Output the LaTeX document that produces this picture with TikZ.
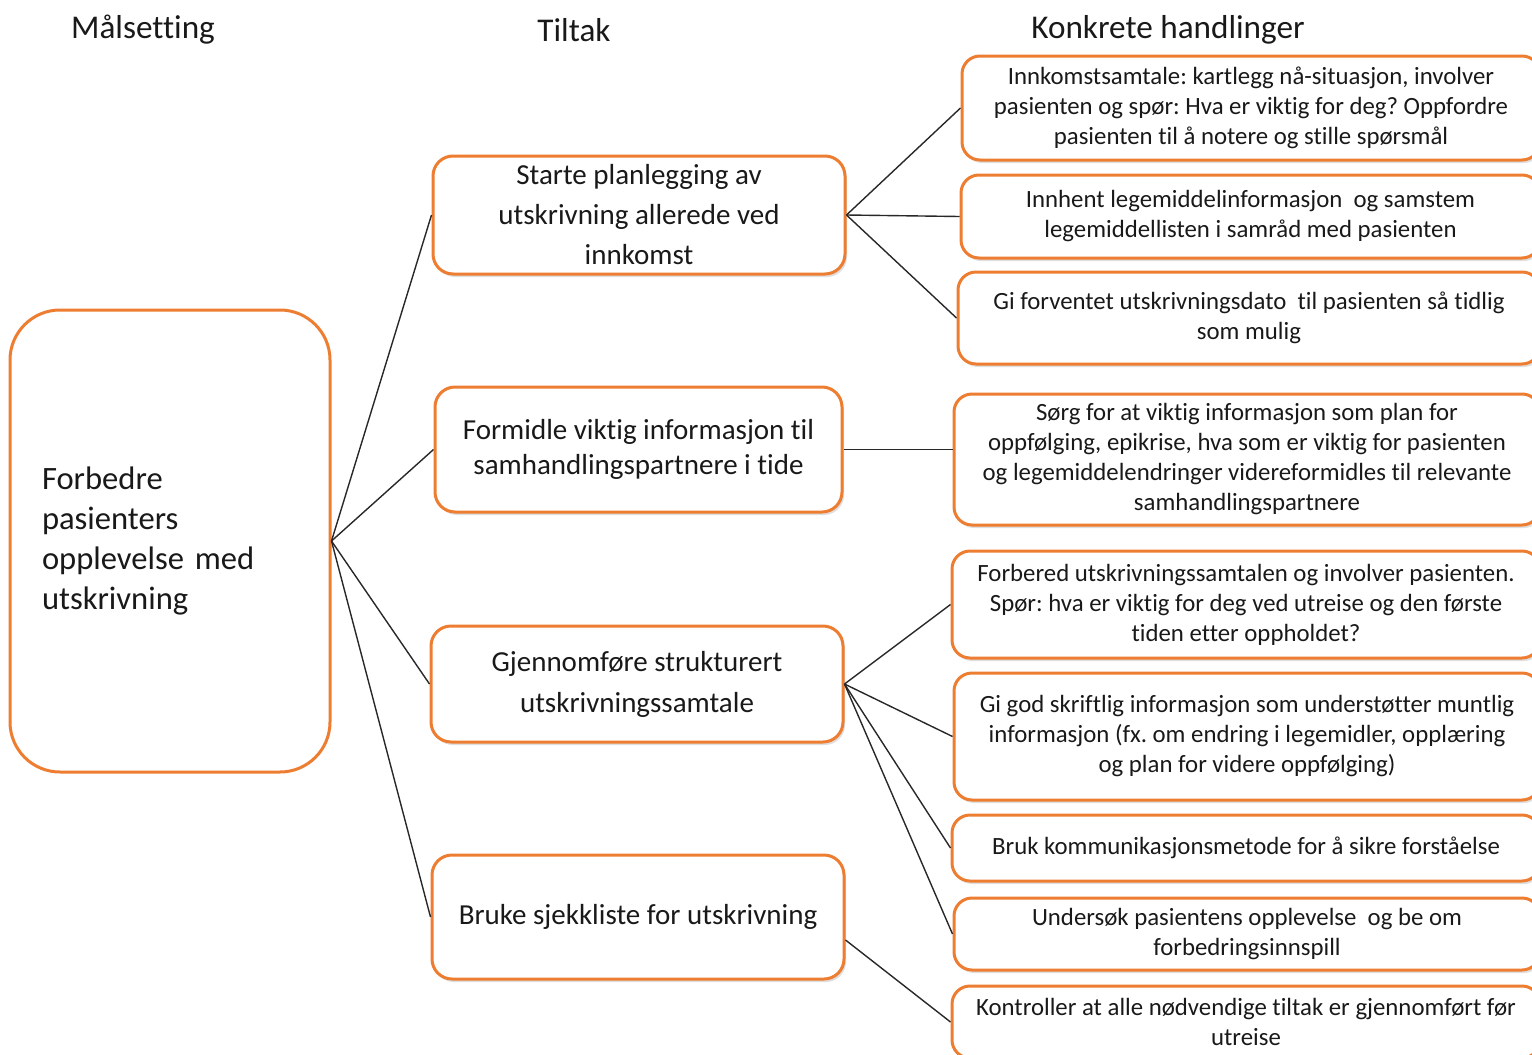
\documentclass[tikz,border=0pt]{standalone}
\usepackage{fontspec}
\setmainfont{Carlito}[Ligatures=NoCommon]
\usetikzlibrary{shadows}
\definecolor{boxorange}{RGB}{237,125,49}
\definecolor{txt}{RGB}{25,25,25}
\definecolor{conn}{RGB}{40,40,40}
\frenchspacing
\begin{document}
\begin{tikzpicture}[x=0.5pt,y=-0.5pt,
  header/.style={font=\fontsize{16.6}{19}\selectfont, text=txt, inner sep=0pt},
  goalbox/.style={draw=boxorange, line width=1.5pt, rounded corners=25pt, fill=white,
    minimum width=160pt, minimum height=231pt, text width=128pt, align=left,
    inner xsep=16pt, font=\fontsize{16.3}{20}\selectfont, text=txt},
  midbox/.style={draw=boxorange, line width=1.5pt, rounded corners=10pt, fill=white,
    drop shadow={shadow xshift=1pt, shadow yshift=-1.5pt, opacity=0.25},
    align=center, inner sep=0pt, text=txt},
  actbox/.style={draw=boxorange, line width=1.5pt, rounded corners=9pt, fill=white,
    drop shadow={shadow xshift=1pt, shadow yshift=-1.5pt, opacity=0.25},
    minimum width=292pt, align=center, inner sep=0pt, text=txt,
    font=\fontsize{12.4}{15}\selectfont},
  link/.style={draw=conn, line width=0.7pt}
]
\useasboundingbox (0,0) rectangle (1532,1055);

% headers
\node[header] (h1) at (143,30) {Målsetting};
\node[header] (h2) at (574,30) {Tiltak};
\node[header] (h3) at (1168,30) {Konkrete handlinger};

% goal
\node[goalbox] (goal) at (170,541) {Forbedre\\pasienters\\opplevelse med\\utskrivning};

% measures
\node[midbox, minimum width=206pt, minimum height=59pt, font=\fontsize{14.5}{20}\selectfont] (m1) at (639,215)
  {Starte planlegging av\\utskrivning allerede ved\\innkomst};
\node[midbox, minimum width=203.5pt, minimum height=62.5pt, font=\fontsize{14.5}{17.5}\selectfont] (m2) at (638.5,449.5)
  {Formidle viktig informasjon til\\samhandlingspartnere i tide};
\node[midbox, minimum width=206pt, minimum height=58pt, font=\fontsize{14.5}{20.5}\selectfont] (m3) at (637,684)
  {Gjennomføre strukturert\\utskrivningssamtale};
\node[midbox, minimum width=206pt, minimum height=62pt, font=\fontsize{14.5}{20}\selectfont] (m4) at (638,917)
  {Bruke sjekkliste for utskrivning};

% actions
\node[actbox, minimum width=289pt, minimum height=52pt] (r1) at (1251,108)
  {Innkomstsamtale: kartlegg nå-situasjon, involver\\pasienten og spør: Hva er viktig for deg? Oppfordre\\pasienten til å notere og stille spørsmål};
\node[actbox, minimum width=289.5pt, minimum height=41.5pt] (r2) at (1250.5,216.5)
  {Innhent legemiddelinformasjon\ \ og samstem\\legemiddellisten i samråd med pasienten};
\node[actbox, minimum width=291pt, minimum height=46pt] (r3) at (1249,318)
  {Gi forventet utskrivningsdato\ \ til pasienten så tidlig\\som mulig};
\node[actbox, minimum width=293pt, minimum height=65.5pt] (r4) at (1247,459.5)
  {Sørg for at viktig informasjon som plan for\\oppfølging, epikrise, hva som er viktig for pasienten\\og legemiddelendringer videreformidles til relevante\\samhandlingspartnere};
\node[actbox, minimum width=294pt, minimum height=53.5pt] (r5) at (1246,604.5)
  {Forbered utskrivningssamtalen og involver pasienten.\\Spør: hva er viktig for deg ved utreise og den første\\tiden etter oppholdet?};
\node[actbox, minimum width=293pt, minimum height=63.5pt] (r6) at (1247,736.5)
  {Gi god skriftlig informasjon som understøtter muntlig\\informasjon (fx. om endring i legemidler, opplæring\\og plan for videre oppfølging)};
\node[actbox, minimum width=294pt, minimum height=33pt] (r7) at (1246,848)
  {Bruk kommunikasjonsmetode for å sikre forståelse};
\node[actbox, minimum width=293pt, minimum height=36pt] (r8) at (1247,934)
  {Undersøk pasientens opplevelse\ \ og be om\\forbedringsinnspill};
\node[actbox, minimum width=294pt, minimum height=36pt] (r9) at (1246,1022)
  {Kontroller at alle nødvendige tiltak er gjennomført før\\utreise};

% connectors
\foreach \m in {m1,m2,m3,m4}
  \draw[link] (goal.east) -- (\m.west);
\foreach \r in {r1,r2,r3}
  \draw[link] (m1.east) -- (\r.west);
\draw[link] (m2.east) -- ([yshift=5pt]r4.west);
\foreach \r in {r5,r6,r7,r8}
  \draw[link] (m3.east) -- (\r.west);
\draw[link] ([yshift=-11.5pt]m4.east) -- (r9.west);
\end{tikzpicture}
\end{document}
